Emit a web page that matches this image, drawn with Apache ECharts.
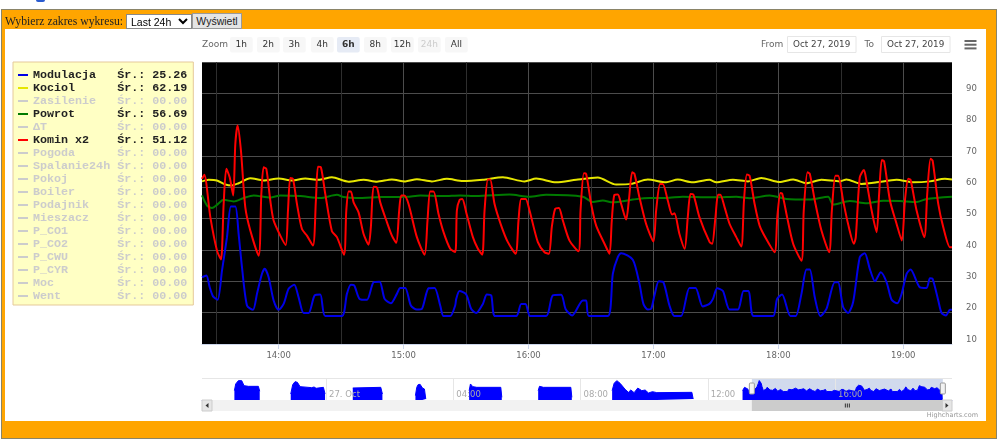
<!DOCTYPE html>
<html>
<head>
<meta charset="utf-8">
<title>Wykres</title>
<script src="https://cdn.jsdelivr.net/npm/echarts@6/dist/echarts.min.js"></script>
<style>
html,body{margin:0;padding:0;background:#fff;overflow:hidden}
#frame{position:absolute;left:1px;top:9px;width:994px;height:428px;background:#ffa500;border:1px solid #8a8468}
#inner{position:absolute;left:5px;top:29px;width:981px;height:392px;background:#fff}
#logo{position:absolute;left:36px;top:0;width:9px;height:2px;background:#2a5bd0;border-radius:0 0 5px 5px}
#pic1{position:absolute;left:0;top:0;width:1000px;height:444px}
#controls{position:absolute;left:5px;top:13px;height:16px;z-index:5;font:11.7px "Liberation Serif",serif;color:#222;white-space:nowrap}
#controls span{position:absolute;left:0;top:2px}
#controls select{position:absolute;left:121px;top:1px;width:66px;height:15px;font:10.5px "Liberation Sans",sans-serif;padding:0;border:1px solid #888;background:#fff}
#controls button{position:absolute;left:187px;top:0;width:50px;height:16px;font:10.5px "Liberation Sans",sans-serif;padding:0;border:1px solid #999;background:#e4e4e4;color:#222}
</style>
</head>
<body>
<div id="logo"></div>
<div id="frame"></div>
<div id="inner"></div>
<div id="pic1"></div>
<div id="controls">
  <span>Wybierz zakres wykresu:</span>
  <select><option>Last 24h</option></select>
  <button>Wyświetl</button>
</div>
<script>
// [minutes after midnight 27 Oct, value]
var modulacja = [[803.2,31.3],[805.3,31.9],[806.9,28.1],[808.5,25.2],[810.7,24.1],[812.8,33.4],[815.2,44.1],[817.1,53.9],[819.2,53.9],[820.8,45.1],[822.4,34.5],[824.8,22.3],[827.7,20.9],[829.6,26],[832,32.4],[833.3,34],[835.2,31.3],[837.6,23.9],[840,20.9],[842.4,22.8],[844.8,27.6],[847.5,28.9],[849.6,24.9],[852,19.9],[854.4,19.9],[857.3,25.5],[860,25.8],[862.4,18.9],[870.4,18.9],[872.8,26],[874.7,28.9],[876.3,28.7],[878.9,24.4],[882.4,24.1],[885.6,29.7],[888.5,29.9],[890.9,24.4],[893.9,23],[896.8,26],[898.4,27.9],[900.8,27.9],[903.5,22.3],[906.4,21],[908.8,21.2],[912,27.8],[914.9,27.9],[917.6,22.3],[919.2,18.9],[922.4,18.9],[924.8,22.3],[925.3,24.4],[926.9,26.9],[930.1,25.8],[932.5,21.2],[934.9,19.9],[938.1,22.8],[940,25.8],[942.1,25.5],[944,18.9],[954.1,18.9],[956.5,22.8],[958.6,22.8],[960.8,18.9],[968.5,18.9],[971.7,25.5],[975.7,25.7],[977.8,21.2],[981,19.1],[986.1,23.9],[987.7,23.9],[989,18.9],[998.1,18.9],[1000.5,32.4],[1002.9,37.7],[1004.5,39],[1010.1,36.9],[1013.3,29.2],[1015.2,22.8],[1017.3,21],[1018.9,21.2],[1020.5,25.5],[1022.6,30],[1024.8,29.7],[1027.7,22.3],[1030.1,18.9],[1033.3,18.9],[1037.3,27.9],[1040.2,27.9],[1043.7,22],[1046.9,22.8],[1048.6,24.4],[1050.6,27.8],[1053.4,26.9],[1056.6,21],[1060.6,21],[1063.3,26.9],[1065.7,26.9],[1068.1,18.9],[1077.4,18.9],[1079.4,24.4],[1081.8,25.8],[1085.8,18.9],[1088.3,18.9],[1091.1,26],[1093.5,33.8],[1095.1,33.8],[1097.5,24.9],[1100.2,18.9],[1103.1,21.2],[1107.1,29.7],[1108.7,29.7],[1111.1,21.8],[1113.5,19.9],[1115.9,23.3],[1119.1,37.7],[1121.5,39],[1123.9,34],[1126.4,30],[1129.2,32.9],[1132,29.7],[1134.4,24.1],[1137.1,23],[1139.2,26],[1141.6,32.4],[1143.5,33.8],[1148,28.1],[1151.2,27.9],[1152.8,31],[1154.1,30.8],[1156.8,23.9],[1158.4,19.9],[1160.5,19.1],[1162.4,20.9],[1163.4,20.9]];
var kociol = [[803.2,61.9],[806.4,62.4],[810.4,62.2],[814.4,60.9],[817.6,60.6],[820.8,61.3],[826.4,62.9],[832.8,62.2],[840,62.8],[846.4,62.2],[852.8,62.8],[859.2,62.4],[865.6,63.2],[873.6,61.8],[880.8,62.4],[887.2,61.8],[894.4,62.5],[900.8,61.9],[906.4,62.6],[913.6,61.9],[920.8,62.7],[928.5,62],[938.1,62.4],[947.7,63.2],[958.1,61.9],[963.7,62.8],[973.3,61.6],[982.9,62.4],[993.3,63.1],[1002.1,60.9],[1009.3,61.1],[1017.3,62.5],[1026.1,61.6],[1031.7,62.5],[1038.9,61.6],[1046.9,62.4],[1050.2,61.6],[1058.2,62.4],[1065.4,61.9],[1071.8,63],[1080.6,61.7],[1087.1,62.5],[1093.5,61.3],[1100.7,62.4],[1109.5,61.9],[1112.7,62.5],[1119.9,61.1],[1127.2,61.6],[1136.8,62.4],[1144.8,61.6],[1152.8,61.9],[1160,62.7],[1163.4,62.5]];
var powrot = [[803.2,57.4],[805.6,54.2],[808,53.4],[810.4,54.4],[813.6,56],[818.4,55.5],[823.2,56.6],[828,57.4],[836,56.7],[840.8,57.4],[850.4,57.2],[860,56.6],[868,57.6],[871.2,56.9],[877.6,56.6],[888.8,56.9],[901.6,57],[908,57.4],[919.2,57.2],[927.2,57.4],[934.9,57.2],[950.9,57.7],[960.5,57],[968.5,57.6],[986.1,57],[990.9,55.3],[995.7,55.8],[1000.5,55.2],[1010.1,56.1],[1018.1,56.6],[1026.1,56.6],[1034.1,57],[1046.9,56.8],[1050.2,56.8],[1059.8,57],[1066.2,56.5],[1075.8,57.4],[1083.8,56.3],[1095.1,56.1],[1103.9,57],[1106.3,54.5],[1114.3,55.6],[1122.3,54.9],[1130.4,55.7],[1138.4,55.6],[1146.4,55.3],[1151.2,56.3],[1163.4,57]];
var kominX2 = [[803.2,62.7],[804.3,64],[807.2,50.5],[810.4,39.8],[812.3,37],[813.6,54.7],[814.9,65.9],[816.5,63.2],[818.2,57.4],[819.2,73.8],[820.3,79.7],[821.9,71.7],[824,53.6],[826.4,46.2],[830.4,38.2],[831.7,57.9],[832.8,66.4],[834.1,65.9],[836,55.8],[837.6,49.4],[840.8,44.6],[843.4,41.6],[844.5,52.6],[845.6,63],[846.9,62.7],[848.8,54.7],[851.2,46.7],[853.6,44.6],[856.5,41.4],[857.9,55.8],[858.9,66.6],[860.3,66.4],[862.4,57.9],[865.6,46],[868,44.1],[871.4,38.5],[872.5,52.6],[873.6,58.7],[874.7,58.7],[876,55.2],[878.4,52],[880.8,45.1],[883.2,41.7],[884.3,47.3],[885.6,60.2],[887.2,60],[888.8,55.2],[892,48.9],[894.4,44.6],[896.5,42.3],[897.9,52.6],[898.9,57.4],[900.3,57.4],[902.4,54.7],[906.4,44.1],[910.1,38.5],[911.5,49.4],[912.8,58.7],[914.4,58.7],[916.8,51.5],[919.2,45.7],[922.4,40.4],[924.8,39.4],[925.6,52.6],[926.9,56],[928.2,56.3],[930.1,52],[933.3,44.1],[935.7,40.4],[937.8,38.5],[938.9,52.6],[940.5,62.5],[941.6,62.5],[943.7,54.7],[946.9,47.8],[950.1,42.5],[953.8,38.8],[955.2,49.4],[956.5,56.3],[958.6,56.3],[960.5,52.6],[964.5,42.5],[967.7,39.3],[969.8,38.8],[971.2,47.3],[972.8,53.1],[974.6,53.4],[976.5,49.4],[979.7,43],[984,39.6],[985,52.6],[986.6,64.5],[987.7,64.3],[990.1,54.7],[992.5,47.8],[996.5,42],[998.9,38.8],[1000,49.4],[1001.3,57.6],[1002.9,57.7],[1004.5,54.7],[1006.9,49.7],[1008.2,55.8],[1009.8,64.8],[1010.9,64.3],[1013.3,56.8],[1016.5,48.3],[1020,42.7],[1021.3,52.6],[1023.2,61.1],[1024.5,61.1],[1026.9,55.8],[1029,51.3],[1030.1,51.7],[1032.5,45.1],[1035,40.4],[1036.5,50.5],[1037.8,57.9],[1039.2,57.7],[1042.1,50.5],[1047,42.5],[1048.2,42],[1049.8,50.5],[1051,57.6],[1052.1,57.6],[1054.2,53.6],[1056.6,48.3],[1059.8,44.1],[1062.2,41.1],[1063.5,55.8],[1064.9,64.1],[1066.2,63.7],[1068.6,54.7],[1071,47.8],[1074.2,43.5],[1078.2,39.3],[1079.5,50.5],[1081,58.2],[1081.9,57.9],[1084.2,50.5],[1087.1,42],[1091.1,36.6],[1092.2,52.6],[1094,64.8],[1095.1,64.3],[1097.5,55.8],[1100.7,46.2],[1104.4,39.3],[1105.7,52.6],[1107.4,63.7],[1108.7,63.7],[1111.1,55.8],[1113.5,48.3],[1116.3,42],[1117.2,44.1],[1119.1,63.2],[1121.1,65.5],[1122.3,62.1],[1124.8,52.6],[1127.2,45.7],[1128.4,57.9],[1129.7,68.7],[1130.8,68.3],[1133.6,55.8],[1136.8,48.3],[1139.3,43],[1140.8,55.8],[1142.4,62.7],[1143.5,62.4],[1146.4,52.6],[1150.1,44.1],[1151.5,57.9],[1153.1,69.1],[1154.1,68.5],[1156.8,54.7],[1159.2,47.3],[1162.4,40.9],[1163.4,40.9]];
// navigator history before the zoomed window, null = boiler off
var navHistory = [[-172.9,21.7],[-170.4,43],[-165.4,53.6],[-159.1,53.6],[-154.7,37.6],[-146.5,35.5],[-127.7,35.5],[-125.1,20],[-124,null],
  [-66.6,11],[-62.9,40.8],[-58.5,50.4],[-54.1,48.3],[-49,34.5],[-27,31.3],[-22.6,33.4],[-18.8,29.2],[-5,32.3],[-1.9,11],[-1,null],
  [50.4,30.2],[52.9,32.3],[103.2,32.3],[106.3,11],[107,null],
  [168.6,5.8],[171.1,32.3],[173.6,40.8],[177.4,41.9],[181.8,30.2],[185.6,27],[188.1,-5],[189,null],
  [269.9,21.7],[272.4,43],[276.8,34.5],[284.3,32.3],[329.6,32.3],[331.5,0.5],[332,null],
  [400.1,21.7],[402.6,35.5],[405.7,38.7],[410.1,32.3],[461.7,32.3],[463.6,0.5],[464,null],
  [539.6,21.7],[543.4,45],[548.4,53.6],[554.7,45],[564.1,26],[570.4,16.4],[574.8,23.8],[581.1,15.4],[588,30],[595.6,21.7],[601.9,23.8],[608.2,14.3],[615.7,18.5],[623.9,15.4],[690,16.4],[692.5,-5],[693,null],
  [785.6,21.7],[789.3,32.3],[795.6,27],[798.8,11],[800,16.4]];

var names = ['Modulacja','Kociol','Zasilenie','Powrot','ΔT','Komin x2','Pogoda','Spalanie24h','Pokoj','Boiler','Podajnik','Mieszacz','P_CO1','P_CO2','P_CWU','P_CYR','Moc','Went'];
var averages = ['25.26','62.19','00.00','56.69','00.00','51.12','00.00','00.00','00.00','00.00','00.00','00.00','00.00','00.00','00.00','00.00','00.00','00.00'];
var lineColors = {'Modulacja':'#0000e6','Kociol':'#e6e600','Powrot':'#007a00','Komin x2':'#ff0000'};
var lineData = {'Modulacja':modulacja,'Kociol':kociol,'Powrot':powrot,'Komin x2':kominX2};

var hourTicks = [840,900,960,1020,1080,1140];
var halfHourTicks = [810,870,930,990,1050,1110];
var navTicks = [0,240,480,720,960];
var zoomLabels = ['1h','2h','3h','4h','6h','8h','12h','24h','All'];
var zoomButtonX = [230,257,283,311,337,364,391,418,445];
var selectedZoom = '6h', disabledZoom = '24h';
var windowStart = 803.2, windowEnd = 1163.4;
var navStart = -234, navEnd = 1180.7;
var dateFrom = 'Oct 27, 2019', dateTo = 'Oct 27, 2019';

function clock(m){
    var h = Math.floor(m/60), n = Math.round(m-h*60);
    return (h<10?'0':'') + h + ':' + (n<10?'0':'') + n;
}
function pad(s,n){ while(s.length<n) s+=' '; return s; }

var uiFont = '"DejaVu Sans",sans-serif';
var myChart = echarts.init(document.getElementById('pic1'));

var legendSelected = {};
var series = names.map(function(n){
    legendSelected[n] = !!lineData[n];
    return {
        name: n,
        type: 'line',
        xAxisIndex: 0,
        yAxisIndex: 0,
        showSymbol: false,
        smooth: 0.25,
        lineStyle: {width: 2, color: lineColors[n] || '#ccc'},
        itemStyle: {color: lineColors[n] || '#ccc'},
        data: lineData[n] || []
    };
});
series.push({
    name: 'nav',
    type: 'line',
    xAxisIndex: 2,
    yAxisIndex: 1,
    showSymbol: false,
    lineStyle: {width: 1, color: '#0000ff'},
    itemStyle: {color: '#0000ff'},
    areaStyle: {color: '#0000ff', opacity: 1, origin: 'start'},
    data: navHistory.concat(modulacja),
    markArea: {
        silent: true,
        itemStyle: {color: 'rgba(102,133,194,0.3)'},
        data: [[{xAxis: windowStart},{xAxis: windowEnd}]]
    }
});

var uiElements = [];
function addText(text,x,y,fill,font,align){
    uiElements.push({type:'text',silent:true,z:10,style:{text:text,x:x,y:y,fill:fill,font:font,textAlign:align||'left',textVerticalAlign:'middle'}});
}
function addRect(x,y,w,h,fill,stroke,r){
    uiElements.push({type:'rect',silent:true,z:9,shape:{x:x,y:y,width:w,height:h,r:r||0},style:{fill:fill,stroke:stroke||null,lineWidth:1}});
}
addText('Zoom',202,44.5,'#666','9px '+uiFont);
zoomLabels.forEach(function(label,i){
    var sel = label===selectedZoom, dis = label===disabledZoom;
    addRect(zoomButtonX[i],37,22.7,15.5,sel?'#e6ebf5':'#f7f7f7',null,2);
    addText(label,zoomButtonX[i]+11.3,44.5,dis?'#ccc':'#333',(sel?'bold ':'')+'9px '+uiFont,'center');
});
addText('From',761,44.5,'#666','9px '+uiFont);
addRect(787.5,36.5,68.5,16,'#fff','#e6e6e6');
addText(dateFrom,821.7,44.5,'#444','8.8px '+uiFont,'center');
addText('To',864.5,44.5,'#666','9px '+uiFont);
addRect(881.5,36.5,68.5,16,'#fff','#e6e6e6');
addText(dateTo,915.7,44.5,'#444','8.8px '+uiFont,'center');
[40,43.7,47.4].forEach(function(y){ addRect(964.5,y,12,2,'#666'); });
addText('Highcharts.com',978,415,'#999','6.5px '+uiFont,'right');
// navigator top edge, scrollbar track and end buttons
addRect(202,378,750,1,'#e6e6e6');
addRect(202,400,750,11,'#f2f2f2');
addRect(202,400,10,11,'#e6e6e6','#ccc');
addRect(942,400,10,11,'#e6e6e6','#ccc');
uiElements.push({type:'polygon',silent:true,z:10,shape:{points:[[208.5,403],[208.5,408],[205.5,405.5]]},style:{fill:'#333'}});
uiElements.push({type:'polygon',silent:true,z:10,shape:{points:[[945.5,403],[945.5,408],[948.5,405.5]]},style:{fill:'#333'}});

var option = {
    animation: false,
    backgroundColor: 'transparent',
    legend: {
        orient: 'vertical',
        left: 13,
        top: 62,
        padding: [7,6,3,5],
        itemWidth: 10,
        itemHeight: 2,
        itemGap: 1,
        icon: 'rect',
        selectedMode: true,
        backgroundColor: '#ffffc4',
        borderColor: '#e5c99a',
        borderWidth: 1,
        inactiveColor: '#ccc',
        inactiveBorderWidth: 0,
        textStyle: {fontFamily: '"Liberation Mono",monospace', fontWeight: 'bold', fontSize: 11.7, color: '#222'},
        data: names,
        selected: legendSelected,
        formatter: function(n){
            return pad(n,12) + 'Śr.: ' + averages[names.indexOf(n)];
        }
    },
    grid: [
        {left: 202, width: 750, top: 62, height: 282, backgroundColor: '#000', show: true, borderWidth: 0},
        {left: 202, width: 750, top: 378, height: 22, show: true, backgroundColor: 'transparent', borderWidth: 0}
    ],
    xAxis: [
        {
            type: 'value', gridIndex: 0, min: windowStart, max: windowEnd,
            axisLine: {show: true, onZero: false, lineStyle: {color: '#ccd6eb'}},
            axisTick: {show: true, length: 5, lineStyle: {color: '#ccd6eb'}, customValues: hourTicks},
            axisLabel: {color: '#666', fontFamily: uiFont, fontSize: 8.5, margin: 7, customValues: hourTicks, formatter: clock},
            splitLine: {show: true, lineStyle: {color: '#4c4c4c', width: 1}}
        },
        {
            type: 'value', gridIndex: 0, min: windowStart, max: windowEnd, position: 'top',
            axisLine: {show: false},
            axisTick: {show: false, customValues: halfHourTicks},
            axisLabel: {show: false},
            splitLine: {show: true, lineStyle: {color: '#2e2e2e', width: 1}}
        },
        {
            type: 'value', gridIndex: 1, min: navStart, max: navEnd, z: 3,
            axisLine: {show: true, onZero: false, lineStyle: {color: '#a0a0ee'}},
            axisTick: {show: false, customValues: navTicks},
            axisLabel: {inside: true, color: '#aaa', fontFamily: uiFont, fontSize: 8.5, margin: 1, align: 'left', padding: [0,0,0,3], verticalAlign: 'bottom',
                customValues: navTicks,
                formatter: function(v){ return v===0 ? '27. Oct' : clock(v); }},
            splitLine: {show: true, lineStyle: {color: '#e6e6e6', width: 1}}
        }
    ],
    yAxis: [
        {
            type: 'value', gridIndex: 0, position: 'right', min: 10, max: 100, interval: 10,
            axisLine: {show: false}, axisTick: {show: false},
            axisLabel: {color: '#666', fontFamily: uiFont, fontSize: 8.5, margin: 14, verticalAlign: 'bottom', showMaxLabel: false},
            splitLine: {show: true, lineStyle: {color: '#4c4c4c', width: 1}}
        },
        {
            type: 'value', gridIndex: 1, min: -8, max: 62,
            axisLine: {show: false}, axisTick: {show: false}, axisLabel: {show: false}, splitLine: {show: false}
        }
    ],
    series: series,
    graphic: {elements: uiElements}
};
myChart.setOption(option);

// selection thumb and handles follow the navigator axis
var xa = myChart.convertToPixel({xAxisIndex: 2}, windowStart);
var xb = myChart.convertToPixel({xAxisIndex: 2}, windowEnd);
addRect(xa,400,xb-xa,11,'#cccccc');
[-2,0,2].forEach(function(d){ addRect((xa+xb)/2+d-0.5,403.5,1,4,'#333'); });
addRect(xa-2.5,383,5,11,'#f2f2f2','#999',1);
addRect(xb-2.5,383,5,11,'#f2f2f2','#999',1);
myChart.setOption({graphic: {elements: uiElements}});
</script>
</body>
</html>
